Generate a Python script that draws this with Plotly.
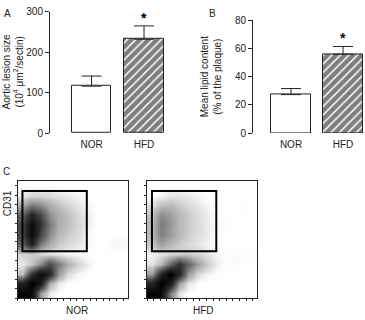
import plotly.graph_objects as go

# ---------------- data ----------------
groups = ["NOR", "HFD"]
lesion_size = [116, 232]          # panel A (10^4 um^2/section)
lesion_err = [25, 33]
lipid_content = [27.3, 56.0]      # panel B (% of plaque)
lipid_err = [4.3, 5.5]
ticks_a = [0, 100, 200, 300]
ticks_b = [0, 20, 40, 60, 80]

# panel C: event density (12 x 12 grid, rows top -> bottom)
grid_x = [4.17, 12.5, 20.83, 29.17, 37.5, 45.83, 54.17, 62.5, 70.83, 79.17, 87.5, 95.83]
grid_y = [95.83, 87.5, 79.17, 70.83, 62.5, 54.17, 45.83, 37.5, 29.17, 20.83, 12.5, 4.17]
density_nor = [
    [0, 0, 0, 0, 0, 0, 0, 0, 0, 0, 0, 0],
    [0.2, 0.6, 0.6, 0.5, 0.3, 0.2, 0.1, 0, 0, 0, 0, 0],
    [1.5, 3, 2.5, 1.5, 1, 0.6, 0.3, 0.1, 0, 0, 0, 0],
    [4, 7, 5, 2.5, 1.5, 1, 0.5, 0.2, 0, 0, 0, 0],
    [5, 9, 6, 3, 1.5, 1, 0.6, 0.2, 0, 0, 0, 0],
    [5, 9, 5, 2.5, 1.2, 0.8, 0.5, 0.1, 0, 0, 0, 0],
    [4, 7, 3, 1.5, 0.8, 0.5, 0.3, 0.1, 0, 0, 0.1, 0.1],
    [0.6, 0.8, 0.5, 0.3, 0.2, 0.1, 0.1, 0, 0, 0, 0, 0],
    [0.2, 0.8, 2.5, 5, 3, 1.5, 0.6, 0.2, 0, 0, 0, 0],
    [1, 6, 9, 7, 2, 0.4, 0.1, 0, 0, 0, 0, 0],
    [7, 10, 8, 1.5, 0.2, 0, 0, 0, 0, 0, 0, 0],
    [10, 9, 2, 0.2, 0, 0, 0, 0, 0, 0, 0, 0],
]
density_hfd = [
    [0, 0, 0, 0, 0, 0, 0, 0, 0, 0, 0, 0],
    [0, 0.1, 0.3, 0.3, 0.2, 0.1, 0, 0, 0, 0, 0, 0],
    [0.3, 1, 1.2, 0.8, 0.5, 0.3, 0.1, 0, 0, 0, 0.05, 0],
    [1, 2.5, 2, 1.2, 0.8, 0.4, 0.2, 0, 0, 0, 0, 0],
    [1.2, 3, 2.2, 1.2, 0.8, 0.5, 0.2, 0.05, 0.05, 0, 0, 0],
    [1.2, 2.8, 2, 1.2, 0.7, 0.4, 0.2, 0, 0, 0, 0, 0],
    [0.8, 2, 1.2, 0.8, 0.5, 0.3, 0.1, 0, 0, 0, 0, 0],
    [0.1, 0.3, 0.5, 0.7, 0.8, 0.6, 0.3, 0.1, 0, 0.05, 0, 0.05],
    [0.3, 1.2, 3.5, 6, 4, 2, 0.8, 0.2, 0, 0.05, 0, 0],
    [2, 7, 10, 7, 2, 0.5, 0.1, 0, 0, 0, 0, 0],
    [7, 10, 8, 2, 0.3, 0, 0, 0, 0, 0, 0, 0],
    [10, 9, 3, 0.3, 0, 0, 0, 0, 0, 0, 0, 0],
]
gate_x = [4.5, 63]
gate_y = [40, 91.5]

# ---------------- figure ----------------
W, H = 365, 320
FONT = "Arial, Liberation Sans, sans-serif"
INK = "#222222"

def px(x):
    return x / W

def py(y):
    return 1 - y / H

fig = go.Figure()

bar_line = dict(color=INK, width=1)
for vals, errs, xa, ya in [(lesion_size, lesion_err, "x", "y"),
                           (lipid_content, lipid_err, "x2", "y2")]:
    fig.add_trace(go.Bar(
        x=[0, 1], y=vals, width=0.76, xaxis=xa, yaxis=ya,
        marker=dict(color="white", line=bar_line,
                    pattern=dict(shape=["", "/"], fgcolor="black", bgcolor="white",
                                 size=6, solidity=0.75)),
        error_y=dict(type="data", array=errs, arrayminus=[0, 0], symmetric=False,
                     color=INK, thickness=1, width=10),
        showlegend=False, hoverinfo="skip"))

cscale = [[0, "white"], [0.03, "#e4e4e4"], [0.1, "#c0c0c0"], [0.3, "#7a7a7a"],
          [0.6, "#303030"], [1, "black"]]
for dens, xa, ya in [(density_nor, "x3", "y3"), (density_hfd, "x4", "y4")]:
    fig.add_trace(go.Heatmap(x=grid_x, y=grid_y, z=dens, xaxis=xa, yaxis=ya,
                             zmin=0, zmax=10, colorscale=cscale, zsmooth="best",
                             showscale=False, hoverinfo="skip"))

tickfont = dict(family=FONT, size=10, color=INK)
common_y = dict(showline=True, linecolor=INK, linewidth=1, ticks="outside", ticklen=4,
                tickcolor=INK, tickfont=tickfont, showgrid=False, zeroline=False,
                fixedrange=True)
common_x = dict(showline=False, ticks="", tickvals=[0, 1], ticktext=groups,
                tickfont=tickfont, showgrid=False, zeroline=False, ticklabelstandoff=4)

flow_x = dict(range=[0, 100], showline=True, mirror=True, linecolor=INK, linewidth=1,
              ticks="outside", ticklen=2, tickcolor=INK, tickvals=list(range(0, 101, 6)),
              showticklabels=False, showgrid=False, zeroline=False)
flow_y = dict(range=[0, 100], showline=True, mirror=True, linecolor=INK, linewidth=1,
              ticks="outside", ticklen=2, tickcolor=INK, tickvals=list(range(0, 101, 8)),
              showticklabels=False, showgrid=False, zeroline=False)

fig.update_layout(
    width=W, height=H, autosize=False,
    margin=dict(l=0, r=0, t=0, b=0),
    paper_bgcolor="white", plot_bgcolor="white",
    font=dict(family=FONT, size=10, color=INK),
    bargap=0,
    xaxis=dict(domain=[px(49), px(170)], range=[-0.81, 1.495], anchor="y", **common_x),
    yaxis=dict(domain=[py(132), py(6)], range=[0, 300], tickvals=ticks_a, anchor="free",
               position=px(49), **common_y),
    xaxis2=dict(domain=[px(252), 1.0], range=[-0.75, 1.423], anchor="y2", **common_x),
    yaxis2=dict(domain=[py(132), py(15)], range=[0, 80], tickvals=ticks_b, anchor="free",
                position=px(252), **common_y),
    xaxis3=dict(domain=[px(17.5), px(127.5)], anchor="y3", **flow_x),
    yaxis3=dict(domain=[py(303.5), py(182)], anchor="x3", **flow_y),
    xaxis4=dict(domain=[px(147), px(257)], anchor="y4", **flow_x),
    yaxis4=dict(domain=[py(303.5), py(182)], anchor="x4", **flow_y),
)

for xr, yr in [("x3", "y3"), ("x4", "y4")]:
    fig.add_shape(type="rect", xref=xr, yref=yr, x0=gate_x[0], x1=gate_x[1],
                  y0=gate_y[0], y1=gate_y[1], line=dict(color="black", width=2))

ann_font = dict(family=FONT, size=10, color=INK)
anns = [
    dict(text="A", x=px(2), y=py(0), xanchor="left", yanchor="top"),
    dict(text="B", x=px(207), y=py(0), xanchor="left", yanchor="top"),
    dict(text="C", x=px(1), y=py(164), xanchor="left", yanchor="top"),
    dict(text="Aortic lesion size<br>(10<sup>4</sup> μm<sup>2</sup>/sectin)",
         x=px(13), y=py(69), textangle=-90, xanchor="center", yanchor="middle"),
    dict(text="Mean lipid content<br>(% of the plaque)",
         x=px(210.5), y=py(73.5), textangle=-90, xanchor="center", yanchor="middle"),
    dict(text="CD31", x=px(7), y=py(205), textangle=-90, xanchor="center", yanchor="middle"),
    dict(text="NOR", x=px(77), y=py(309), xanchor="center", yanchor="top"),
    dict(text="HFD", x=px(203), y=py(309), xanchor="center", yanchor="top"),
]
for a in anns:
    fig.add_annotation(xref="paper", yref="paper", showarrow=False, font=ann_font, **a)

for xa, ya, vals, errs in [("x", "y", lesion_size, lesion_err),
                           ("x2", "y2", lipid_content, lipid_err)]:
    fig.add_annotation(xref=xa, yref=ya, x=1, y=vals[1] + errs[1], text="<b>*</b>",
                       showarrow=False, yanchor="bottom", yshift=-2,
                       font=dict(family=FONT, size=14, color="black"))

fig.write_html(
    "out.html",
    config={"displayModeBar": False},
    post_script="document.body.style.margin='0';document.body.style.padding='0';"
                "document.body.style.overflow='hidden';",
)
